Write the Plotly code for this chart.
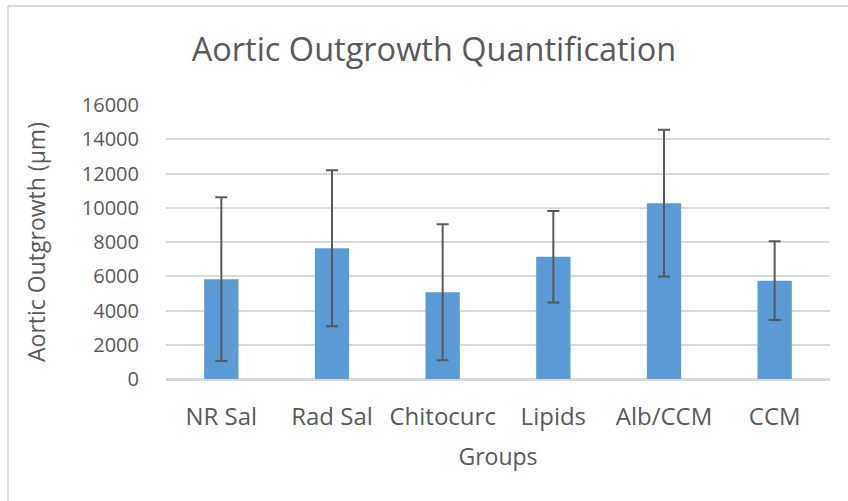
import plotly.graph_objects as go

groups = ["NR Sal", "Rad Sal", "Chitocurc", "Lipids", "Alb/CCM", "CCM"]
means = [5830, 7630, 5060, 7140, 10270, 5740]
errors = [4780, 4555, 3970, 2670, 4290, 2300]
y_ticks = [0, 2000, 4000, 6000, 8000, 10000, 12000, 14000, 16000]

TEXT = "#595959"
GRID = "#D9D9D9"
FONT = "Open Sans"

fig = go.Figure()
fig.add_trace(go.Bar(
    x=groups, y=means,
    marker=dict(color="#5B9BD5", line=dict(width=0)),
    width=0.31,
    error_y=dict(type="data", array=errors, visible=True,
                 color=TEXT, thickness=2, width=6),
))

W, H = 848, 501
L, R, T, B = 166, 18, 105, 122
pw, ph = W - L - R, H - T - B

def px2paper_x(px):
    return (px - L) / pw

def px2paper_y(py):
    return (H - B - py) / ph

fig.update_layout(
    width=W, height=H,
    margin=dict(l=L, r=R, t=T, b=B, pad=0),
    paper_bgcolor="white", plot_bgcolor="white",
    showlegend=False,
    font=dict(family=FONT, color=TEXT),
    title=dict(text="Aortic Outgrowth Quantification",
               font=dict(family=FONT, size=32.5, color=TEXT),
               x=434 / W, xanchor="center",
               y=1 - 50 / H, yanchor="middle"),
    xaxis=dict(
        showgrid=False, showline=True, linecolor=GRID, linewidth=1.5,
        ticks="outside", ticklen=15, tickcolor="rgba(0,0,0,0)",
        tickfont=dict(family=FONT, size=24, color=TEXT),
        title=dict(text="Groups", font=dict(family=FONT, size=23, color=TEXT), standoff=18),
    ),
    yaxis=dict(
        range=[0, 16000], tickvals=y_ticks,
        ticktext=[str(v) for v in y_ticks],
        showgrid=True, gridcolor=GRID, gridwidth=1.5,
        zeroline=True, zerolinecolor=GRID, zerolinewidth=1.5,
        showline=False,
        ticks="outside", ticklen=22, tickcolor="rgba(0,0,0,0)",
        tickfont=dict(family=FONT, size=20, color=TEXT),
        title=dict(text="Aortic Outgrowth (µm)", font=dict(family=FONT, size=23, color=TEXT), standoff=29),
    ),
    shapes=[
        dict(type="line", xref="paper", yref="paper",
             x0=px2paper_x(8), x1=px2paper_x(8), y0=px2paper_y(6), y1=px2paper_y(H + 5),
             line=dict(color=GRID, width=2)),
        dict(type="line", xref="paper", yref="paper",
             x0=px2paper_x(8), x1=px2paper_x(W + 5), y0=px2paper_y(6), y1=px2paper_y(6),
             line=dict(color=GRID, width=2)),
    ],
)

fig.write_html("out.html",
               config={"displayModeBar": False},
               post_script="document.body.style.margin='0';document.body.style.overflow='hidden';")
